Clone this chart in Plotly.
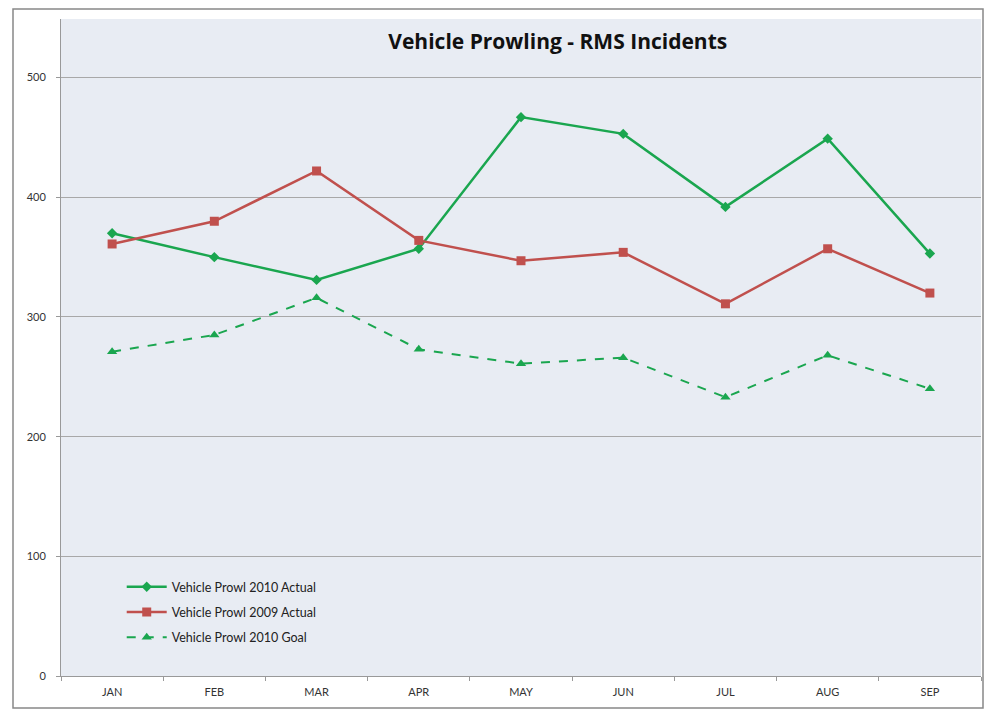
import plotly.graph_objects as go

months = ["JAN", "FEB", "MAR", "APR", "MAY", "JUN", "JUL", "AUG", "SEP"]
actual_2010 = [370, 350, 331, 357, 467, 453, 392, 449, 353]
actual_2009 = [361, 380, 422, 364, 347, 354, 311, 357, 320]
goal_2010 = [271, 285, 316, 273, 261, 266, 233, 268, 240]

green = "#1aa64f"
red = "#c0504d"

fig = go.Figure()
fig.add_trace(go.Scatter(x=months, y=actual_2010, name="Vehicle Prowl 2010 Actual",
                         mode="lines+markers", line=dict(color=green, width=2.5),
                         marker=dict(symbol="diamond", size=8, color=green),
                         legendgroup="a"))
fig.add_trace(go.Scatter(x=months, y=actual_2009, name="Vehicle Prowl 2009 Actual",
                         mode="lines+markers", line=dict(color=red, width=2.5),
                         marker=dict(symbol="square", size=9, color=red),
                         legendgroup="b"))
fig.add_trace(go.Scatter(x=months, y=goal_2010, name="Vehicle Prowl 2010 Goal",
                         mode="lines+markers", line=dict(color=green, width=2, dash="dash"),
                         marker=dict(symbol="triangle-up", size=9, color=green),
                         legendgroup="c"))

W, H = 987, 705
ml, mr, mt, mb = 53, 14, 11, 37
pw, ph = W - ml - mr, H - mt - mb

fig.update_layout(
    width=W, height=H,
    margin=dict(l=ml, r=mr, t=mt, b=mb),
    paper_bgcolor="white",
    plot_bgcolor="#e8ecf3",
    font=dict(family="Lato, Open Sans, sans-serif", size=11, color="#333"),
    title=dict(text="<b>Vehicle Prowling - RMS Incidents</b>", x=0.557, xanchor="center",
               y=1 - 34 / H, yanchor="middle",
               font=dict(family="Open Sans, sans-serif", size=21, color="#111")),
    showlegend=True,
    legend=dict(x=0.066, y=0.158, xanchor="left", yanchor="top",
                bgcolor="rgba(0,0,0,0)", font=dict(size=12.5, color="#222"),
                itemwidth=40,
                traceorder="grouped", tracegroupgap=6),
    xaxis=dict(type="category", range=[-0.5, 8.5], showgrid=False,
               showline=True, linecolor="#999", linewidth=1,
               ticks="outside", tickson="boundaries", ticklen=4, tickcolor="#999",
               ticklabelstandoff=6,
               tickfont=dict(size=11, color="#333")),
    yaxis=dict(range=[0, 549], tickvals=[0, 100, 200, 300, 400, 500],
               showgrid=True, gridcolor="#a8a8a8", gridwidth=1,
               showline=True, linecolor="#999", linewidth=1,
               ticks="outside", ticklen=4, tickcolor="#999",
               ticklabelstandoff=8,
               tickfont=dict(size=11, color="#333"), zeroline=False),
    shapes=[dict(type="rect", xref="paper", yref="paper",
                 x0=-48 / pw, x1=1 + 2 / pw, y0=-32 / ph, y1=1 + 10 / ph,
                 line=dict(color="#888", width=1.5), fillcolor="rgba(0,0,0,0)",
                 layer="below")],
)

fig.write_html("out.html")
